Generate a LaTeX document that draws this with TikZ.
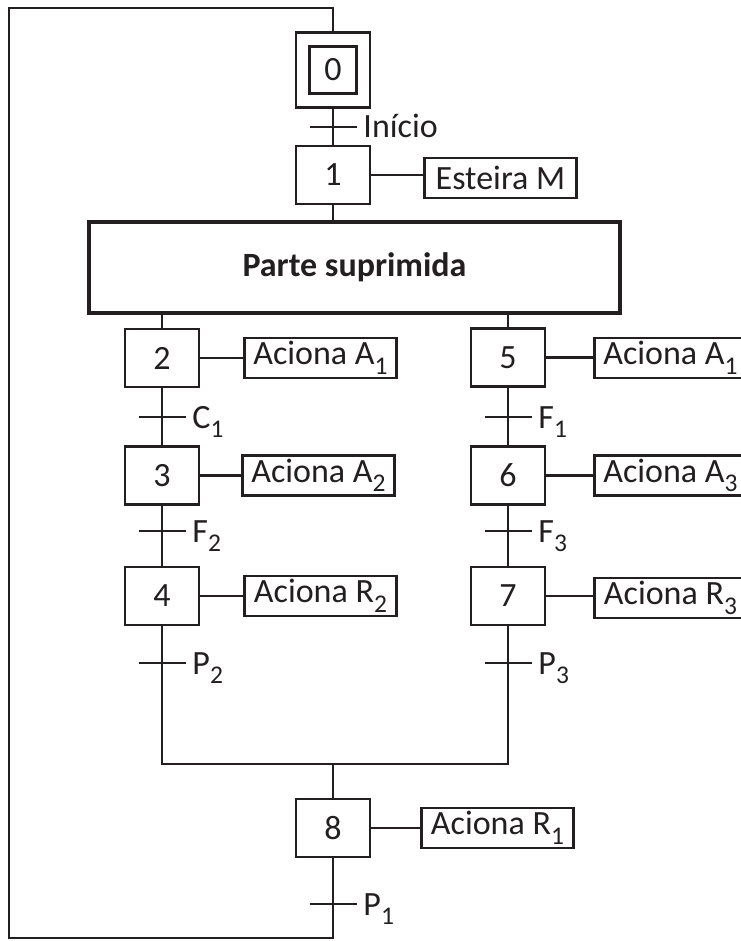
\documentclass[tikz,border=0pt]{standalone}
\usepackage{fontspec}
\setmainfont{Carlito}
\definecolor{ink}{HTML}{231F20}
\newcommand{\idx}[1]{\raisebox{-9.5pt}{\fontsize{25.5}{26}\selectfont #1}}
\begin{document}
\begin{tikzpicture}[x=1pt,y=-1pt,ink,line width=2.9pt,
  font=\fontsize{34}{40}\selectfont,
  etapa/.style={draw,minimum width=74pt,minimum height=58pt,inner sep=0pt},
  acao/.style={draw,anchor=west,minimum width=152pt,minimum height=40pt,inner sep=0pt},
  trans/.style={minimum width=47pt,minimum height=0pt,inner sep=0pt,outer sep=0pt,
    label={[anchor=base west,inner sep=0pt,xshift=5.5pt,yshift=-11pt]right:#1}}]
\useasboundingbox (0,0) rectangle (740,941);
% etapas
\node[etapa,minimum width=47pt,minimum height=47pt] (e0) at (333,70) {0};
\node[draw,minimum width=74pt,minimum height=75pt] (e0o) at (e0) {};
\node[etapa] (e1) at (333,175) {1};
\node[draw,line width=4.8pt,minimum width=531pt,minimum height=91pt,font=\fontsize{34}{40}\selectfont\bfseries] (parte) at (354.5,267.5) {Parte suprimida};
\node[etapa] (e2) at (162,358) {2};
\node[etapa] (e3) at (162,475.5) {3};
\node[etapa] (e4) at (162,596) {4};
\node[etapa] (e5) at (508,357.5) {5};
\node[etapa] (e6) at (508,475.5) {6};
\node[etapa] (e7) at (508,596) {7};
\node[etapa] (e8) at (333,828) {8};
% acoes
\node[acao] (a1) at (423,178) {Esteira M};
\node[acao] (a2) at (243,358) {Aciona A\idx{1}};
\node[acao] (a3) at (241,475.5) {Aciona A\idx{2}};
\node[acao] (a4) at (243,596) {Aciona R\idx{2}};
\node[acao] (a5) at (593,358) {Aciona A\idx{1}};
\node[acao] (a6) at (593,475.5) {Aciona A\idx{3}};
\node[acao] (a7) at (593,598) {Aciona R\idx{3}};
\node[acao] (a8) at (420,828) {Aciona R\idx{1}};
% transicoes
\node[trans=Início] (t0) at (333,127) {};
\node[trans=C\idx{1}] (t1) at (162,417) {};
\node[trans=F\idx{2}] (t2) at (162,531) {};
\node[trans=P\idx{2}] (t3) at (162,663) {};
\node[trans=F\idx{1}] (t4) at (508,417) {};
\node[trans=F\idx{3}] (t5) at (508,531) {};
\node[trans=P\idx{3}] (t6) at (508,663) {};
\node[trans=P\idx{1}] (t7) at (333,904) {};
\foreach \t in {t0,t1,t2,t3,t4,t5,t6,t7}
  \draw (\t.west) -- (\t.east);
% ligacoes
\coordinate (juncao) at (333,764);
\coordinate (fundo) at (333,938);
\draw (e0o) -- (e1);
\draw (e1) -- (e1 |- parte.north);
\draw (e2 |- parte.south) -- (e2) -- (e3) -- (e4) -- (e4 |- juncao) -- (e7 |- juncao) -- (e7) -- (e6) -- (e5) -- (e5 |- parte.south);
\draw (juncao) -- (e8) -- (fundo) -| (9,8) -| (e0o.north);
\foreach \n in {1,...,8}
  \draw (e\n.east) -- (e\n.east -| a\n.west);
\end{tikzpicture}
\end{document}
